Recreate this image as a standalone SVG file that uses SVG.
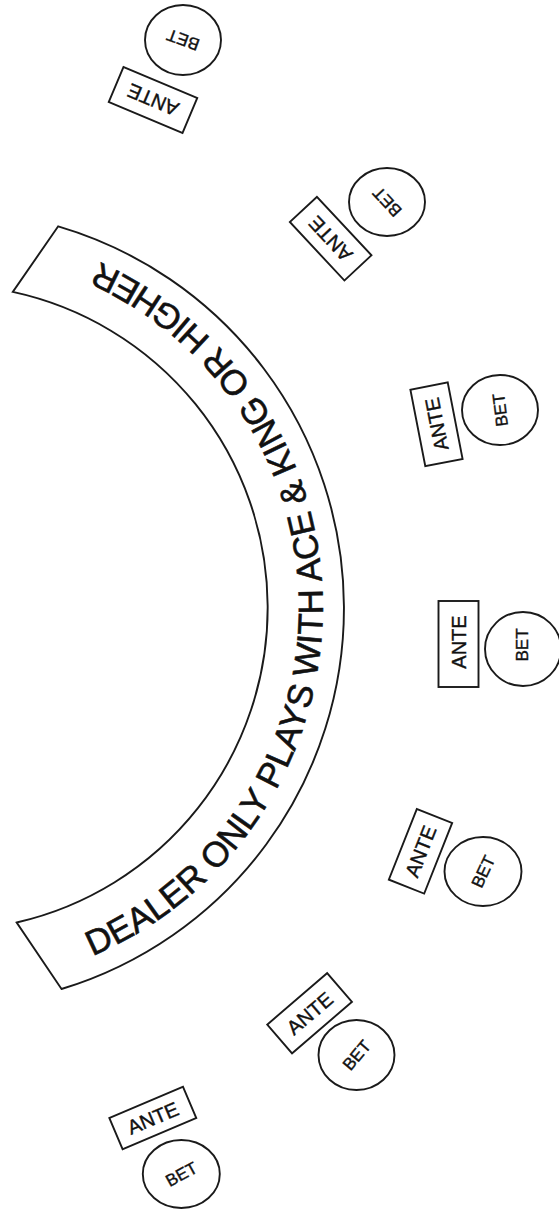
<svg xmlns="http://www.w3.org/2000/svg" xmlns:xlink="http://www.w3.org/1999/xlink" width="559" height="1209" viewBox="0 0 559 1209">
<style>
.ln{fill:none;stroke:#1a1a1a;stroke-width:1.9}
.ante{font-family:"Liberation Sans",Arial,sans-serif;font-size:20px;fill:#111;stroke:#111;stroke-width:0.4;text-anchor:middle}
.bet{font-family:"Liberation Sans",Arial,sans-serif;font-size:17px;fill:#111;stroke:#111;stroke-width:0.4;text-anchor:middle}
.band{font-family:"Liberation Sans",Arial,sans-serif;font-size:35px;fill:#111;stroke:#111;stroke-width:0.6}
</style>
<defs>
<path id="tp" d="M 73.6,963.6 A 379 379 0 0 0 73.6,251.4"/>
</defs>
<rect width="559" height="1209" fill="#fff"/>
<g id="dealer-band">
<path class="ln" d="M 58.2,226.3 A 398 398 0 0 1 61.5,989 L 16.7,922.5 A 323 323 0 0 0 12.8,291.9 Z"/>
<text class="band"><textPath xlink:href="#tp" href="#tp" startOffset="49.6%" text-anchor="middle">DEALER ONLY PLAYS WITH ACE &amp; KING OR HIGHER</textPath></text>
</g>
<g id="spot1">
<rect class="ln" x="-40" y="-19" width="80" height="38" transform="translate(153,100) rotate(22.8)"/>
<text class="ante" dy="0.36em" transform="translate(153,100) rotate(203)">ANTE</text>
<ellipse class="ln" cx="183" cy="40" rx="38" ry="35"/>
<text class="bet" dy="0.36em" transform="translate(183,40) rotate(200)">BET</text>
</g>
<g id="spot2">
<rect class="ln" x="-40" y="-19" width="80" height="37" transform="translate(330.3,239) rotate(47)"/>
<text class="ante" dy="0.36em" transform="translate(330.3,239) rotate(-133)">ANTE</text>
<ellipse class="ln" cx="387" cy="202" rx="38" ry="34"/>
<text class="bet" dy="0.36em" transform="translate(387,202) rotate(-133)">BET</text>
</g>
<g id="spot3">
<rect class="ln" x="-39" y="-19" width="78" height="38" transform="translate(436.5,424.3) rotate(-101)"/>
<text class="ante" dy="0.36em" transform="translate(436.5,424.3) rotate(-101)">ANTE</text>
<ellipse class="ln" cx="500" cy="410" rx="38" ry="35"/>
<text class="bet" dy="0.36em" transform="translate(500,410) rotate(-97)">BET</text>
</g>
<g id="spot4">
<rect class="ln" x="-43" y="-20" width="86" height="40" transform="translate(458.5,644) rotate(-90)"/>
<text class="ante" dy="0.36em" transform="translate(458.5,642) rotate(-90)">ANTE</text>
<ellipse class="ln" cx="523" cy="649" rx="38" ry="37"/>
<text class="bet" dy="0.36em" transform="translate(522,645) rotate(-90)">BET</text>
</g>
<g id="spot5">
<rect class="ln" x="-38" y="-19" width="76" height="38" transform="translate(420.5,851.3) rotate(-68.4)"/>
<text class="ante" dy="0.36em" transform="translate(420.5,851.3) rotate(-68.4)">ANTE</text>
<ellipse class="ln" cx="483" cy="871.5" rx="38.5" ry="34.5"/>
<text class="bet" dy="0.36em" transform="translate(483,871.5) rotate(-65)">BET</text>
</g>
<g id="spot6">
<rect class="ln" x="-39.5" y="-19" width="79" height="38" transform="translate(309.6,1013.2) rotate(-40.7)"/>
<text class="ante" dy="0.36em" transform="translate(309.6,1013.2) rotate(-40.7)">ANTE</text>
<ellipse class="ln" cx="356.5" cy="1055" rx="38" ry="35"/>
<text class="bet" dy="0.36em" transform="translate(356.5,1055) rotate(-50)">BET</text>
</g>
<g id="spot7">
<rect class="ln" x="-40" y="-17" width="80" height="34" transform="translate(152.8,1118) rotate(-23)"/>
<text class="ante" dy="0.36em" transform="translate(152.8,1118) rotate(-23)">ANTE</text>
<ellipse class="ln" cx="181.3" cy="1174" rx="38.5" ry="34"/>
<text class="bet" dy="0.36em" transform="translate(181.3,1174) rotate(-29)">BET</text>
</g>
<g id="connectors"/>
</svg>
